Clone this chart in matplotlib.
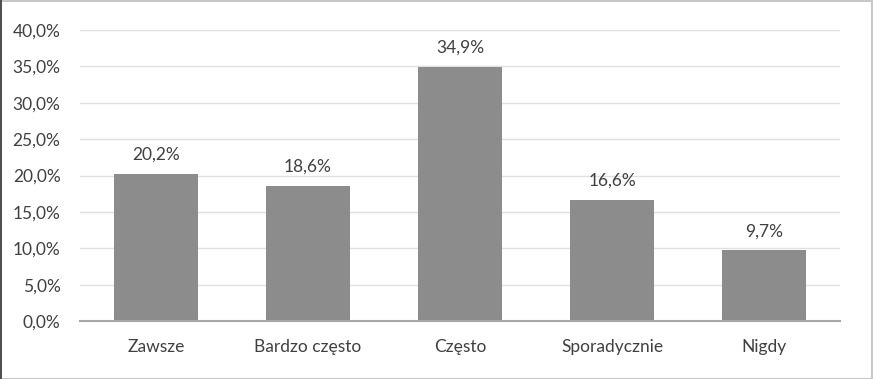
import matplotlib.pyplot as plt
from matplotlib.patches import Rectangle

categories = ["Zawsze", "Bardzo często", "Często", "Sporadycznie", "Nigdy"]
values = [20.2, 18.6, 34.9, 16.6, 9.7]
yticks = [0, 5, 10, 15, 20, 25, 30, 35, 40]

plt.rcParams["font.family"] = ["Lato", "DejaVu Sans"]
text_color = "#404040"
fs = 12.5

fig = plt.figure(figsize=(8.73, 3.79), dpi=100)
ax = fig.add_axes([80 / 873, 1 - 321 / 379, 760 / 873, 291 / 379])

x = range(len(categories))
bars = ax.bar(x, values, width=0.55, color="#8c8c8c", zorder=3)
for xi, v in zip(x, values):
    ax.annotate(f"{v:.1f}%".replace(".", ","), (xi, v), xytext=(0, 8),
                textcoords="offset points", ha="center", va="bottom",
                fontsize=fs, color=text_color)

ax.set_xlim(-0.5, len(categories) - 0.5)
ax.set_ylim(0, 40)
ax.set_yticks(yticks)
ax.set_yticklabels([f"{t:.1f}%".replace(".", ",") for t in yticks],
                   fontsize=fs, color=text_color)
ax.set_xticks(list(x))
ax.set_xticklabels(categories, fontsize=fs, color=text_color)
ax.tick_params(axis="both", length=0)
ax.tick_params(axis="x", pad=13)
ax.tick_params(axis="y", pad=14)
ax.grid(axis="y", color="#e0e0e0", linewidth=1, zorder=0)
for side in ["top", "right", "left"]:
    ax.spines[side].set_visible(False)
ax.spines["bottom"].set_color("#a6a6a6")
ax.spines["bottom"].set_linewidth(1.5)
ax.spines["bottom"].set_zorder(4)

# outer frame
fig.patches.append(Rectangle((0.5 / 873, 0.5 / 379), 1 - 2 / 873, 1 - 1.5 / 379,
                             transform=fig.transFigure, fill=False,
                             edgecolor="#c8c8c8", linewidth=1.5))
fig.patches.append(Rectangle((0, 0), 2 / 873, 1, transform=fig.transFigure,
                             color="#505050", linewidth=0))

fig.savefig("out.png", dpi=100)
